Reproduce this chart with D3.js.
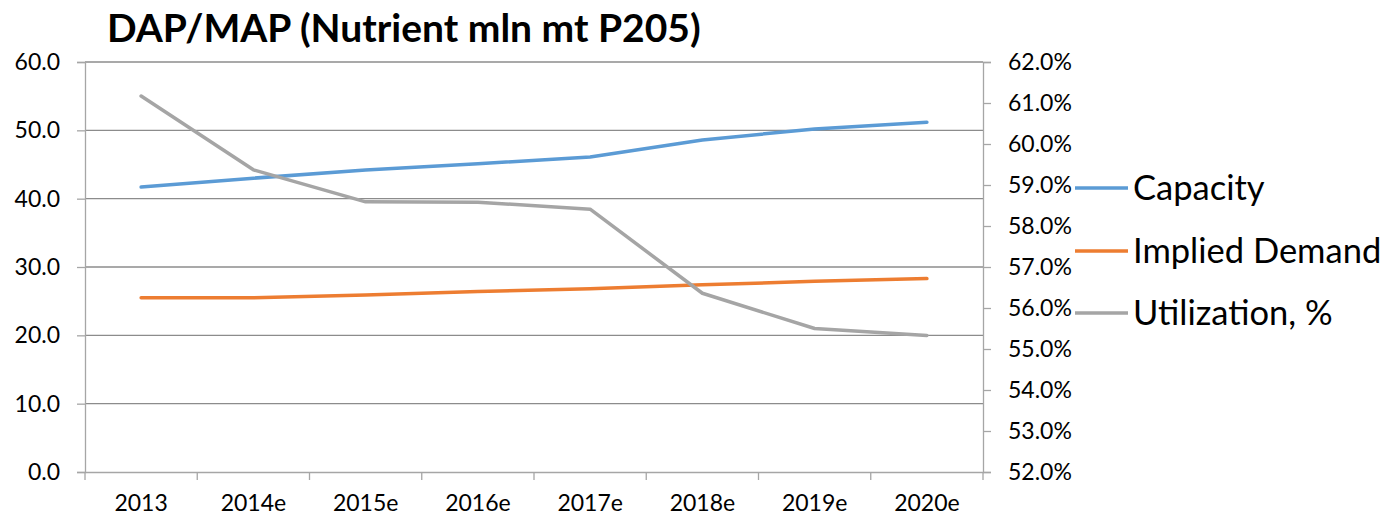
<!DOCTYPE html>
<html>
<head>
<meta charset="utf-8">
<script src="https://cdn.jsdelivr.net/npm/d3@7"></script>
<style>
  body { margin: 0; background: #fff; }
  text { font-family: Lato, "Open Sans", sans-serif; fill: #000; }
</style>
</head>
<body>
<svg id="chart" width="1393" height="520"></svg>
<script>
var years = ["2013", "2014e", "2015e", "2016e", "2017e", "2018e", "2019e", "2020e"];
var capacity = [41.7, 43.0, 44.2, 45.1, 46.1, 48.6, 50.2, 51.2];
var demand = [25.5, 25.5, 25.9, 26.4, 26.8, 27.4, 27.9, 28.3];
var utilization = [61.17, 59.37, 58.59, 58.58, 58.41, 56.36, 55.50, 55.33];
var leftTicks = [0, 10, 20, 30, 40, 50, 60];
var rightTicks = [52, 53, 54, 55, 56, 57, 58, 59, 60, 61, 62];

var svg = d3.select("#chart");
var plotL = 85, plotR = 983, plotT = 62, plotB = 472;

var x = d3.scaleBand().domain(years).range([plotL, plotR]);
var y = d3.scaleLinear().domain([0, 60]).range([plotB, plotT]);
var y2 = d3.scaleLinear().domain([52, 62]).range([plotB, plotT]);

// title
svg.append("text")
	.attr("x", 107).attr("y", 42)
	.style("font-size", "39px").style("font-weight", "bold")
	.text("DAP/MAP (Nutrient mln mt P205)");

// gridlines
svg.append("g").selectAll("line")
	.data(leftTicks.slice(1))
	.enter().append("line")
	.attr("x1", plotL).attr("x2", plotR)
	.attr("y1", function(d){ return y(d); })
	.attr("y2", function(d){ return y(d); })
	.attr("stroke", "#8c8c8c").attr("stroke-width", 1.3);

// left axis
var gl = svg.append("g").attr("transform", "translate(" + plotL + ",0)")
	.call(d3.axisLeft(y).tickValues(leftTicks).tickFormat(d3.format(".1f")).tickSizeOuter(0).tickSize(8).tickPadding(17));
// right axis
var gr = svg.append("g").attr("transform", "translate(" + plotR + ",0)")
	.call(d3.axisRight(y2).tickValues(rightTicks).tickFormat(function(d){ return d.toFixed(1) + "%"; }).tickSizeOuter(0).tickSize(8).tickPadding(17));
// bottom axis
var gb = svg.append("g").attr("transform", "translate(0," + plotB + ")")
	.call(d3.axisBottom(x).tickSize(0).tickPadding(23));
gb.selectAll(".tick").append("line")
	.attr("x1", -x.bandwidth() / 2).attr("x2", -x.bandwidth() / 2)
	.attr("y1", 0).attr("y2", 8);
gb.append("line")
	.attr("x1", plotR).attr("x2", plotR).attr("y1", 0).attr("y2", 8);

[gl, gr, gb].forEach(function(g){
	g.selectAll(".domain").attr("stroke", "#a6a6a6").attr("stroke-width", 1.3);
	g.selectAll("line").attr("stroke", "#a6a6a6").attr("stroke-width", 1.3);
	g.selectAll("text").style("font-size", "23px").attr("fill", "#000")
		.style("font-family", "Lato, 'Open Sans', sans-serif");
});

// series
function cx(d, i){ return x(years[i]) + x.bandwidth() / 2; }
var series = [
	{ name: "Capacity", values: capacity, scale: y, color: "#5b9bd5" },
	{ name: "Implied Demand", values: demand, scale: y, color: "#ed7d31" },
	{ name: "Utilization, %", values: utilization, scale: y2, color: "#a5a5a5" }
];

series.forEach(function(s){
	var line = d3.line().x(cx).y(function(d){ return s.scale(d); });
	svg.append("path")
		.attr("d", line(s.values))
		.attr("fill", "none").attr("stroke", s.color)
		.attr("stroke-width", 3.5).attr("stroke-linecap", "round")
		.attr("stroke-linejoin", "round");
});

// legend
var legendY = [188, 251, 313];
var lg = svg.append("g").selectAll("g")
	.data(series).enter().append("g")
	.attr("transform", function(d, i){ return "translate(1075," + legendY[i] + ")"; });
lg.append("line")
	.attr("x1", 0).attr("x2", 53)
	.attr("stroke", function(d){ return d.color; }).attr("stroke-width", 3.5);
lg.append("text")
	.attr("x", 58).attr("dy", "0.35em")
	.style("font-size", "34.5px")
	.text(function(d){ return d.name; });
</script>
</body>
</html>
